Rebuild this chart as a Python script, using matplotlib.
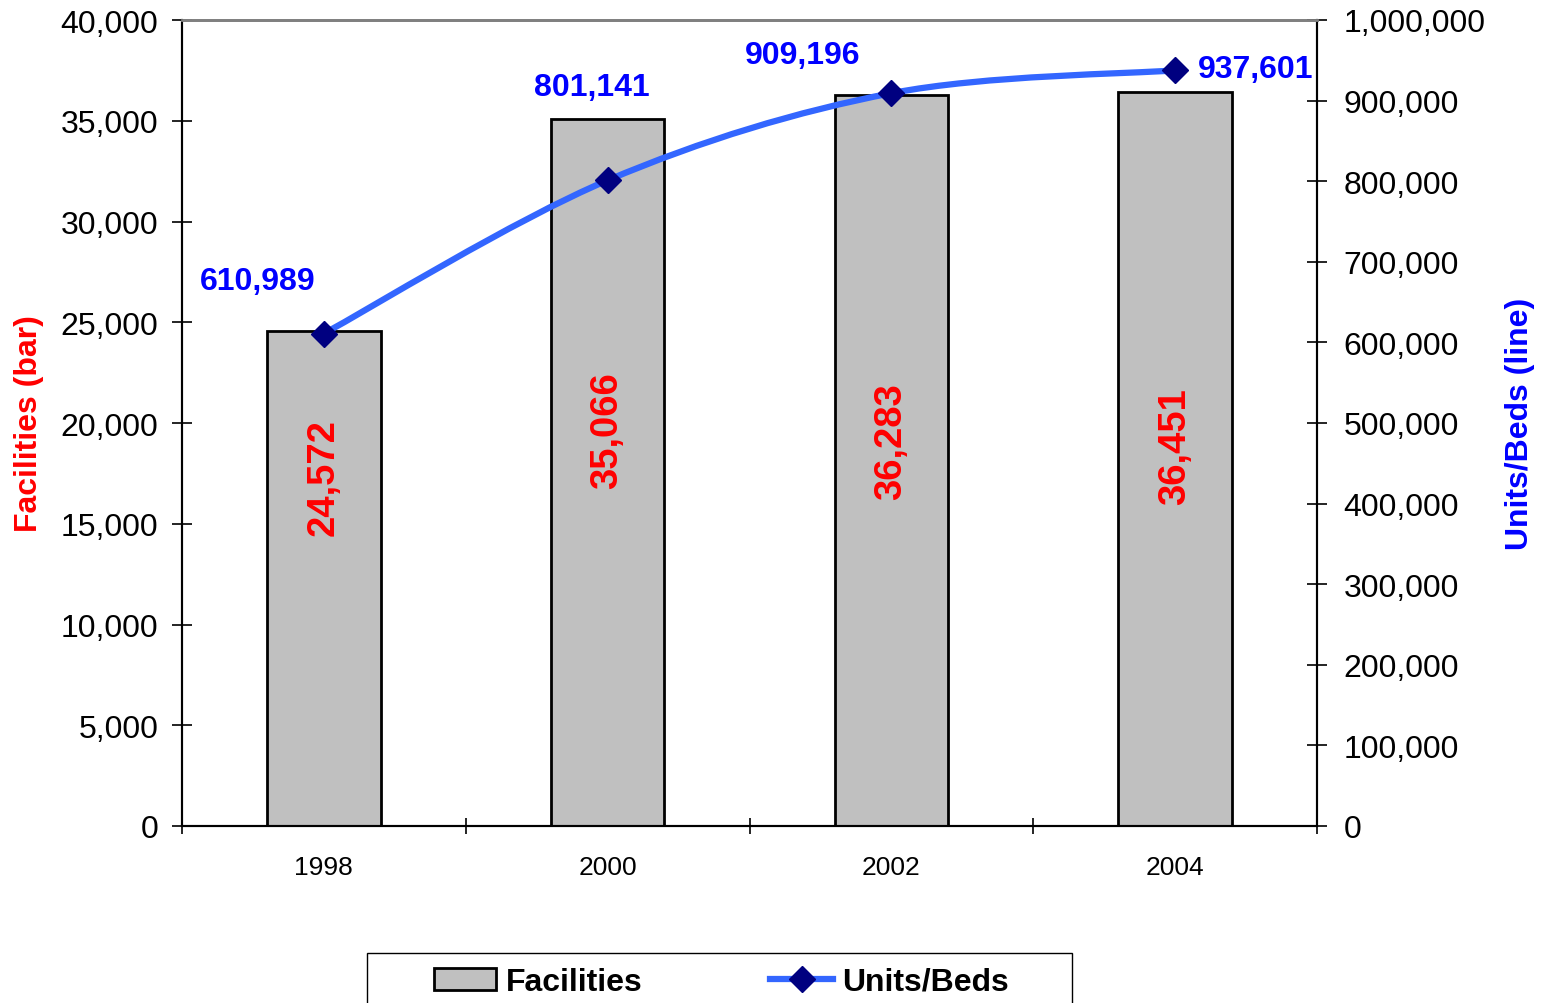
import numpy as np
import matplotlib.pyplot as plt
from matplotlib.path import Path
from matplotlib.patches import PathPatch, Patch, Rectangle
from matplotlib.lines import Line2D
from matplotlib.ticker import FuncFormatter

plt.rcParams['font.family'] = ['Liberation Sans', 'DejaVu Sans']

# data
years = ['1998', '2000', '2002', '2004']
facilities = [24572, 35066, 36283, 36451]
units_beds = [610989, 801141, 909196, 937601]

# label placement (bar labels: y centre in bar units; line labels: pixel offsets)
bar_label_y = [17350, 19650, 19150, 18900]
line_label_offsets = [(-66, 53), (-16, 93), (-89, 38), (23, 1)]
line_label_ha = ['center', 'center', 'center', 'left']

fig = plt.figure(figsize=(15.42, 10.04), dpi=100)
ax = fig.add_axes([182/1542, 1-827/1004, (1317-182)/1542, (827-21)/1004])
ax2 = ax.twinx()

x = np.arange(len(years))
ax.bar(x, facilities, width=0.4, color='#C0C0C0', edgecolor='black', linewidth=2, zorder=2)
for xi, v, ly in zip(x, facilities, bar_label_y):
    ax.text(xi, ly, f'{v:,}', rotation=90, ha='center', va='center',
            color='#FF0000', fontsize=27.5, fontweight='bold', zorder=3)

ax.set_xlim(-0.5, len(years) - 0.5)
ax.set_ylim(0, 40000)
ax.set_yticks(np.arange(0, 40001, 5000))
ax.yaxis.set_major_formatter(FuncFormatter(lambda v, p: f'{int(v):,}'))
ax.tick_params(axis='y', direction='inout', length=14, width=1.2, labelsize=23, pad=10)

ax.set_xticks(np.arange(-0.5, len(years), 1.0))
ax.set_xticklabels([])
ax.set_xticks(x, minor=True)
ax.set_xticklabels(years, minor=True)
ax.tick_params(axis='x', which='major', direction='inout', length=12, width=1.2)
ax.tick_params(axis='x', which='minor', length=0, labelsize=19, pad=21)

ax.set_ylabel('Facilities (bar)', color='#FF0000', fontsize=23, fontweight='bold', labelpad=12)

# smoothed line (cubic Bezier through the points, Catmull-Rom style)
pts = np.column_stack([x, units_beds]).astype(float)
ext = np.vstack([pts[0], pts, pts[-1]])
verts = [tuple(pts[0])]
codes = [Path.MOVETO]
for i in range(1, len(ext) - 2):
    p0, p1, p2, p3 = ext[i-1], ext[i], ext[i+1], ext[i+2]
    c1 = p1 + (p2 - p0) / 6
    c2 = p2 - (p3 - p1) / 6
    verts += [tuple(c1), tuple(c2), tuple(p2)]
    codes += [Path.CURVE4] * 3
ax2.add_patch(PathPatch(Path(verts, codes), facecolor='none', edgecolor='#3366FF',
                        linewidth=4.5, capstyle='round', zorder=4))
ax2.plot(x, units_beds, linestyle='none', marker='D', markersize=13,
         color='#000080', zorder=5)
for xi, v, off, ha in zip(x, units_beds, line_label_offsets, line_label_ha):
    ax2.annotate(f'{v:,}', (xi, v), xytext=off, textcoords='offset pixels',
                 ha=ha, va='center', color='#0000FF', fontsize=23, fontweight='bold', zorder=6)

ax2.set_ylim(0, 1000000)
ax2.set_yticks(np.arange(0, 1000001, 100000))
ax2.yaxis.set_major_formatter(FuncFormatter(lambda v, p: f'{int(v):,}'))
ax2.tick_params(axis='y', direction='inout', length=14, width=1.2, labelsize=23, pad=12)
ax2.set_ylabel('Units/Beds (line)', color='#0000FF', fontsize=23, fontweight='bold',
               rotation=90, labelpad=14)

for a in (ax, ax2):
    a.spines['top'].set_color('#808080')
    a.spines['top'].set_linewidth(2)
    for s in ('left', 'right', 'bottom'):
        a.spines[s].set_linewidth(1.5)
    a.set_facecolor('none')

# legend box (runs off the bottom edge like the original)
fig.patches.append(Rectangle((367/1542, -0.02), (1072-367)/1542, 0.02 + 50/1004,
                             transform=fig.transFigure, facecolor='white',
                             edgecolor='black', linewidth=1))
handles = [Patch(facecolor='#C0C0C0', edgecolor='black', linewidth=2),
           Line2D([], [], color='#3366FF', linewidth=4.5, marker='D', markersize=13,
                  markerfacecolor='#000080', markeredgecolor='#000080')]
fig.legend(handles, ['Facilities', 'Units/Beds'], loc='center left',
           bbox_to_anchor=(434/1542, 1-983/1004), ncol=2, frameon=False,
           borderaxespad=0, borderpad=0,
           prop={'weight': 'bold', 'size': 23}, handlelength=1.95,
           columnspacing=4.0, handletextpad=0.3)

fig.savefig('out.png', dpi=100)
